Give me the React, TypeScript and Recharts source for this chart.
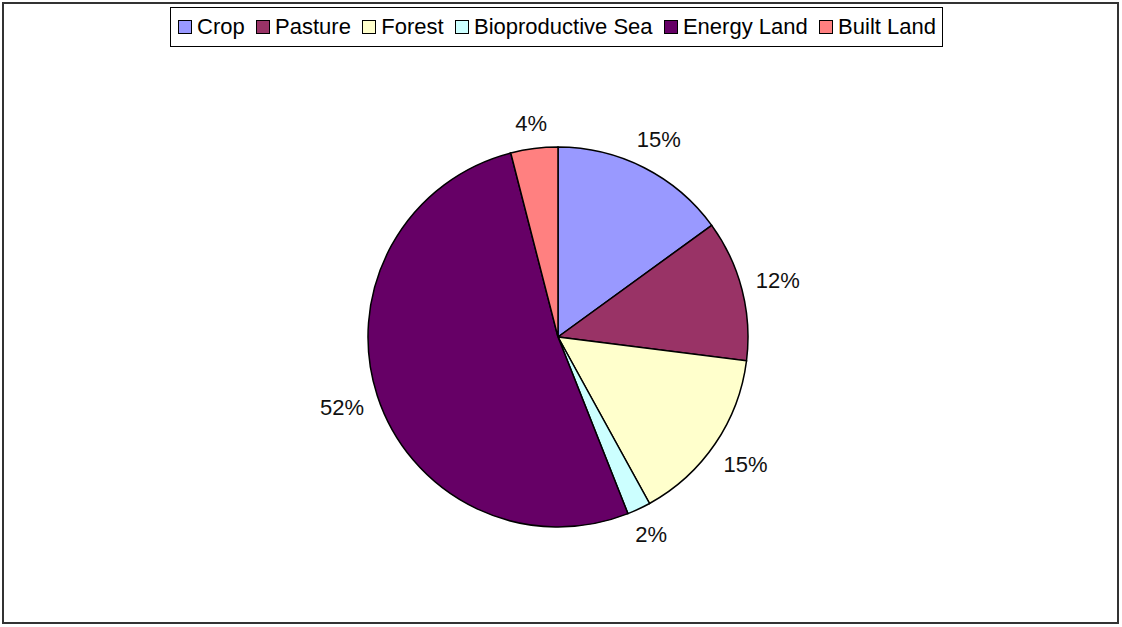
import { Pie, PieChart, Cell, Legend } from 'recharts';

const CATEGORIES = ['Crop', 'Pasture', 'Forest', 'Bioproductive Sea', 'Energy Land', 'Built Land'];
const SHARES = [15, 12, 15, 2, 52, 4];
const COLORS = ['#9999ff', '#993366', '#ffffcc', '#ccffff', '#660066', '#ff8080'];

const data = CATEGORIES.map((name, i) => ({ name, value: SHARES[i] }));

const RADIAN = Math.PI / 180;
const FONT = 'Arial, "Liberation Sans", sans-serif';
const LABEL_SIZE = 22;

// excel-style: keep a constant gap between the pie edge and the label box
const renderLabel = ({ cx, cy, midAngle, outerRadius, value }: any) => {
  const text = `${value}%`;
  const halfW = ((text.length - 1) * 0.556 + 0.89) * LABEL_SIZE / 2;
  const halfH = 10;
  const dx = Math.cos(-midAngle * RADIAN);
  const dy = Math.sin(-midAngle * RADIAN);
  const r = outerRadius + 13 + Math.abs(dx) * halfW + Math.abs(dy) * halfH;
  return (
    <text
      x={cx + r * dx}
      y={cy + r * dy}
      textAnchor="middle"
      dominantBaseline="central"
      fill="#111"
      fontSize={LABEL_SIZE}
      fontFamily={FONT}
    >
      {text}
    </text>
  );
};

const renderLegend = () => (
  <div
    style={{
      display: 'flex',
      alignItems: 'center',
      justifyContent: 'space-between',
      height: '100%',
      boxSizing: 'border-box',
      border: '1.5px solid #000',
      background: '#fff',
      padding: '0 6px 0 7px',
      fontFamily: FONT,
      fontSize: 22,
      color: '#000',
      whiteSpace: 'nowrap',
    }}
  >
    {CATEGORIES.map((name, i) => (
      <span key={name} style={{ display: 'flex', alignItems: 'center' }}>
        <span
          style={{
            display: 'inline-block',
            width: 12,
            height: 12,
            background: COLORS[i],
            border: '1.5px solid #000',
            marginRight: 5,
          }}
        />
        {name}
      </span>
    ))}
  </div>
);

export default function App() {
  return (
    <div style={{ position: 'absolute', left: 0, top: 0, width: 1122, height: 627, background: '#fff' }}>
      <div
        style={{
          position: 'absolute',
          left: 2,
          top: 2,
          width: 1117,
          height: 622,
          boxSizing: 'border-box',
          border: '2px solid #333',
        }}
      />
      <PieChart
        width={1122}
        height={627}
        margin={{ top: 0, right: 0, bottom: 0, left: 0 }}
        style={{ position: 'absolute', left: 0, top: 0 }}
      >
        <Legend
          content={renderLegend}
          wrapperStyle={{ position: 'absolute', top: 7, left: 170, width: 773, height: 40 }}
        />
        <Pie
          data={data}
          dataKey="value"
          nameKey="name"
          cx={558}
          cy={337}
          outerRadius={190}
          startAngle={90}
          endAngle={-270}
          stroke="#000"
          strokeWidth={1.5}
          label={renderLabel}
          labelLine={false}
          isAnimationActive={false}
        >
          {data.map((entry, index) => (
            <Cell key={`pie-cell-${entry.name}`} fill={COLORS[index]} />
          ))}
        </Pie>
      </PieChart>
    </div>
  );
}
